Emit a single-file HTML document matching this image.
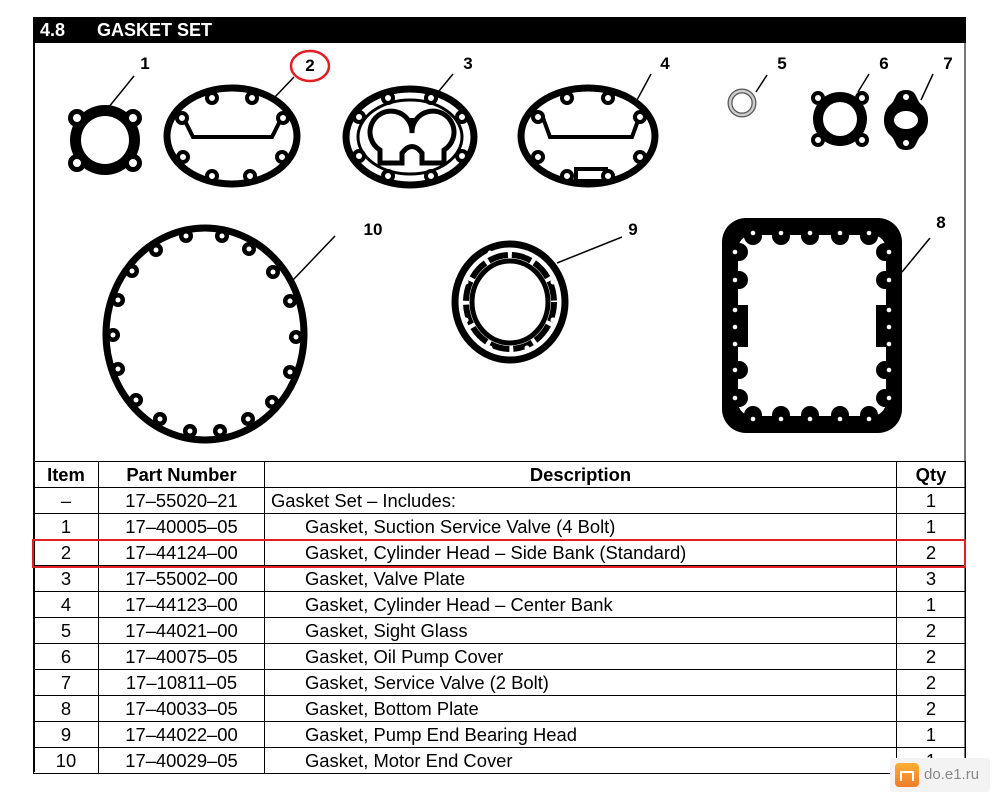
<!DOCTYPE html>
<html><head><meta charset="utf-8"><style>
body{margin:0;background:#fff;width:1000px;height:802px;overflow:hidden;font-family:"Liberation Sans",Arial,sans-serif;position:relative}
#hdr{position:absolute;left:33px;top:17px;width:933px;height:26px;background:#000;color:#fff;font-weight:bold;font-size:18px;line-height:27px}
#frame{position:absolute;left:33px;top:17px;width:933px;height:755px;border-left:2px solid #000;border-right:2px solid #777;box-sizing:border-box}
table{position:absolute;left:33px;top:461px;width:933px;border-collapse:collapse;font-size:18.4px}
tr{height:26px}
td,th{border:1.5px solid #000;padding:0;line-height:20px}
th{font-weight:bold;text-align:center}
td.c{text-align:center}
td.d{padding-left:40px}
#red{position:absolute;left:32px;top:539px;width:930px;height:25px;border:2.5px solid #e31e24}
#wm{position:absolute;left:890px;top:758px;width:100px;height:34px;background:#f3f3f3;border-radius:3px}
</style></head><body>
<div id="frame"></div>
<div id="hdr"><span style="position:absolute;left:7px">4.8</span><span style="position:absolute;left:64px">GASKET SET</span></div>
<svg width="1000" height="460" style="position:absolute;left:0;top:0" font-family="Liberation Sans,Arial,sans-serif" font-weight="bold" font-size="17">
<g fill="#000" text-anchor="middle">
<text x="145" y="69">1</text><text x="310" y="71">2</text><text x="468" y="69">3</text><text x="665" y="69">4</text><text x="782" y="69">5</text><text x="884" y="69">6</text><text x="948" y="69">7</text>
<text x="373" y="235">10</text><text x="633" y="235">9</text><text x="941" y="228">8</text>
</g>
<ellipse cx="310" cy="66" rx="19" ry="15" fill="none" stroke="#e31e24" stroke-width="2.5"/>
<g stroke="#000" stroke-width="1.5" fill="none">
<line x1="134" y1="76" x2="108" y2="108"/><line x1="294" y1="77" x2="275" y2="97"/><line x1="453" y1="74" x2="439" y2="91"/>
<line x1="651" y1="74" x2="637" y2="100"/><line x1="767" y1="75" x2="756" y2="92"/><line x1="869" y1="74" x2="858" y2="92"/><line x1="933" y1="74" x2="921" y2="100"/>
<line x1="335" y1="236" x2="293" y2="280"/><line x1="622" y1="237" x2="557" y2="263"/><line x1="930" y1="238" x2="902" y2="272"/>
</g>
<g>
<circle cx="105" cy="140" r="35" fill="#000"/>
<g fill="#000"><circle cx="77" cy="118" r="9"/><circle cx="133" cy="118" r="9"/><circle cx="77" cy="163" r="9"/><circle cx="133" cy="163" r="9"/></g>
<circle cx="105" cy="140" r="24" fill="#fff"/>
<g fill="#fff"><circle cx="77" cy="118" r="4"/><circle cx="133" cy="118" r="4"/><circle cx="77" cy="163" r="4"/><circle cx="133" cy="163" r="4"/></g>
</g>
<g>
<ellipse cx="232" cy="136" rx="65" ry="48" fill="none" stroke="#000" stroke-width="7"/>
<path d="M182 115 L193 137 L272 137 L283 115" fill="none" stroke="#000" stroke-width="4"/>
<g fill="#fff" stroke="#000" stroke-width="4"><circle cx="212" cy="98" r="5"/><circle cx="252" cy="98" r="5"/><circle cx="182" cy="118" r="5"/><circle cx="283" cy="118" r="5"/><circle cx="183" cy="157" r="5"/><circle cx="282" cy="157" r="5"/><circle cx="212" cy="176" r="5"/><circle cx="250" cy="176" r="5"/></g>
</g>
<g>
<ellipse cx="410" cy="137" rx="64" ry="48" fill="none" stroke="#000" stroke-width="7"/>
<ellipse cx="410" cy="137" rx="52" ry="37" fill="none" stroke="#000" stroke-width="3"/>
<path d="M412 133 A21 21 0 1 0 380 150 L380 163 L402 163 L402 153 Q412 140 422 153 L422 163 L444 163 L444 150 A21 21 0 1 0 412 133 Z" fill="#fff" stroke="#000" stroke-width="5"/>
<line x1="412" y1="118" x2="412" y2="133" stroke="#000" stroke-width="4"/>
<g fill="#fff" stroke="#000" stroke-width="4"><circle cx="388" cy="98" r="5"/><circle cx="431" cy="98" r="5"/><circle cx="359" cy="117" r="5"/><circle cx="462" cy="117" r="5"/><circle cx="359" cy="156" r="5"/><circle cx="462" cy="156" r="5"/><circle cx="388" cy="176" r="5"/><circle cx="431" cy="176" r="5"/></g>
</g>
<g>
<ellipse cx="588" cy="136" rx="67" ry="48" fill="none" stroke="#000" stroke-width="7"/>
<path d="M542 115 L550 137 L632 137 L640 115" fill="none" stroke="#000" stroke-width="4"/>
<rect x="576" y="169" width="30" height="12" fill="#fff" stroke="#000" stroke-width="4"/>
<g fill="#fff" stroke="#000" stroke-width="4"><circle cx="567" cy="98" r="5"/><circle cx="608" cy="98" r="5"/><circle cx="538" cy="117" r="5"/><circle cx="640" cy="117" r="5"/><circle cx="538" cy="157" r="5"/><circle cx="640" cy="157" r="5"/><circle cx="567" cy="176" r="5"/><circle cx="608" cy="176" r="5"/></g>
</g>
<circle cx="742" cy="103" r="12" fill="#fff" stroke="#555" stroke-width="5"/>
<circle cx="742" cy="103" r="12" fill="none" stroke="#ccc" stroke-width="2.5"/>
<g>
<circle cx="840" cy="119" r="27" fill="#000"/>
<g fill="#000"><circle cx="818" cy="98" r="7"/><circle cx="862" cy="98" r="7"/><circle cx="818" cy="140" r="7"/><circle cx="862" cy="140" r="7"/></g>
<circle cx="840" cy="119" r="17" fill="#fff"/>
<g fill="#fff"><circle cx="818" cy="98" r="3"/><circle cx="862" cy="98" r="3"/><circle cx="818" cy="140" r="3"/><circle cx="862" cy="140" r="3"/></g>
</g>
<g>
<path d="M906 90 C918 90 915 100 922 105 C930 112 930 128 922 135 C915 140 918 150 906 150 C894 150 897 140 890 135 C882 128 882 112 890 105 C897 100 894 90 906 90 Z" fill="#000"/>
<ellipse cx="906" cy="120" rx="12" ry="9" fill="#fff"/>
<circle cx="906" cy="97" r="3" fill="#fff"/><circle cx="906" cy="143" r="3" fill="#fff"/>
</g>
<g>
<ellipse cx="205" cy="334" rx="99" ry="106" fill="none" stroke="#000" stroke-width="7"/>
<g fill="#000">
<circle cx="186" cy="236" r="7"/><circle cx="222" cy="236" r="7"/><circle cx="249" cy="249" r="7"/><circle cx="273" cy="272" r="7"/><circle cx="290" cy="301" r="7"/><circle cx="296" cy="337" r="7"/><circle cx="290" cy="372" r="7"/><circle cx="272" cy="402" r="7"/><circle cx="248" cy="419" r="7"/><circle cx="220" cy="431" r="7"/><circle cx="190" cy="431" r="7"/><circle cx="160" cy="419" r="7"/><circle cx="136" cy="400" r="7"/><circle cx="118" cy="369" r="7"/><circle cx="113" cy="335" r="7"/><circle cx="118" cy="300" r="7"/><circle cx="132" cy="271" r="7"/><circle cx="156" cy="250" r="7"/>
</g>
<g fill="#fff">
<circle cx="186" cy="236" r="2.5"/><circle cx="222" cy="236" r="2.5"/><circle cx="249" cy="249" r="2.5"/><circle cx="273" cy="272" r="2.5"/><circle cx="290" cy="301" r="2.5"/><circle cx="296" cy="337" r="2.5"/><circle cx="290" cy="372" r="2.5"/><circle cx="272" cy="402" r="2.5"/><circle cx="248" cy="419" r="2.5"/><circle cx="220" cy="431" r="2.5"/><circle cx="190" cy="431" r="2.5"/><circle cx="160" cy="419" r="2.5"/><circle cx="136" cy="400" r="2.5"/><circle cx="118" cy="369" r="2.5"/><circle cx="113" cy="335" r="2.5"/><circle cx="118" cy="300" r="2.5"/><circle cx="132" cy="271" r="2.5"/><circle cx="156" cy="250" r="2.5"/>
</g>
</g>
<g>
<ellipse cx="510" cy="302" rx="55" ry="58" fill="none" stroke="#000" stroke-width="7"/>
<ellipse cx="510" cy="302" rx="44" ry="47" fill="none" stroke="#000" stroke-width="6" stroke-dasharray="20 4"/>
<ellipse cx="510" cy="302" rx="38" ry="41" fill="none" stroke="#000" stroke-width="5"/>
<g fill="#fff"><circle cx="490" cy="253" r="2.5"/><circle cx="527" cy="253" r="2.5"/><circle cx="466" cy="282" r="2.5"/><circle cx="553" cy="282" r="2.5"/><circle cx="466" cy="320" r="2.5"/><circle cx="553" cy="320" r="2.5"/><circle cx="490" cy="348" r="2.5"/><circle cx="527" cy="348" r="2.5"/></g>
</g>
<g>
<rect x="722" y="218" width="180" height="215" rx="24" fill="#000"/>
<rect x="738" y="235" width="148" height="181" rx="14" fill="#fff"/>
<g fill="#000">
<circle cx="753" cy="236" r="9"/><circle cx="781" cy="236" r="9"/><circle cx="810" cy="236" r="9"/><circle cx="840" cy="236" r="9"/><circle cx="869" cy="236" r="9"/>
<circle cx="753" cy="415" r="9"/><circle cx="781" cy="415" r="9"/><circle cx="810" cy="415" r="9"/><circle cx="840" cy="415" r="9"/><circle cx="869" cy="415" r="9"/>
<circle cx="739" cy="252" r="9"/><circle cx="739" cy="280" r="9"/><circle cx="739" cy="370" r="9"/><circle cx="739" cy="398" r="9"/>
<circle cx="885" cy="252" r="9"/><circle cx="885" cy="280" r="9"/><circle cx="885" cy="370" r="9"/><circle cx="885" cy="398" r="9"/>
<rect x="736" y="305" width="12" height="42"/><rect x="876" y="305" width="12" height="42"/>
</g>
<g fill="#fff">
<circle cx="753" cy="233" r="2.3"/><circle cx="781" cy="233" r="2.3"/><circle cx="810" cy="233" r="2.3"/><circle cx="840" cy="233" r="2.3"/><circle cx="869" cy="233" r="2.3"/>
<circle cx="753" cy="419" r="2.3"/><circle cx="781" cy="419" r="2.3"/><circle cx="810" cy="419" r="2.3"/><circle cx="840" cy="419" r="2.3"/><circle cx="869" cy="419" r="2.3"/>
<circle cx="735" cy="252" r="2.3"/><circle cx="735" cy="280" r="2.3"/><circle cx="735" cy="310" r="2.3"/><circle cx="735" cy="327" r="2.3"/><circle cx="735" cy="344" r="2.3"/><circle cx="735" cy="370" r="2.3"/><circle cx="735" cy="398" r="2.3"/>
<circle cx="889" cy="252" r="2.3"/><circle cx="889" cy="280" r="2.3"/><circle cx="889" cy="310" r="2.3"/><circle cx="889" cy="327" r="2.3"/><circle cx="889" cy="344" r="2.3"/><circle cx="889" cy="370" r="2.3"/><circle cx="889" cy="398" r="2.3"/>
</g>
</g>
</svg>
<table>
<tr><th style="width:64px">Item</th><th style="width:165px">Part Number</th><th>Description</th><th style="width:68px">Qty</th></tr>
<tr><td class="c">–</td><td class="c">17–55020–21</td><td style="padding-left:6px">Gasket Set – Includes:</td><td class="c">1</td></tr>
<tr><td class="c">1</td><td class="c">17–40005–05</td><td class="d">Gasket, Suction Service Valve (4 Bolt)</td><td class="c">1</td></tr>
<tr><td class="c">2</td><td class="c">17–44124–00</td><td class="d">Gasket, Cylinder Head – Side Bank (Standard)</td><td class="c">2</td></tr>
<tr><td class="c">3</td><td class="c">17–55002–00</td><td class="d">Gasket, Valve Plate</td><td class="c">3</td></tr>
<tr><td class="c">4</td><td class="c">17–44123–00</td><td class="d">Gasket, Cylinder Head – Center Bank</td><td class="c">1</td></tr>
<tr><td class="c">5</td><td class="c">17–44021–00</td><td class="d">Gasket, Sight Glass</td><td class="c">2</td></tr>
<tr><td class="c">6</td><td class="c">17–40075–05</td><td class="d">Gasket, Oil Pump Cover</td><td class="c">2</td></tr>
<tr><td class="c">7</td><td class="c">17–10811–05</td><td class="d">Gasket, Service Valve (2 Bolt)</td><td class="c">2</td></tr>
<tr><td class="c">8</td><td class="c">17–40033–05</td><td class="d">Gasket, Bottom Plate</td><td class="c">2</td></tr>
<tr><td class="c">9</td><td class="c">17–44022–00</td><td class="d">Gasket, Pump End Bearing Head</td><td class="c">1</td></tr>
<tr><td class="c">10</td><td class="c">17–40029–05</td><td class="d">Gasket, Motor End Cover</td><td class="c">1</td></tr>
</table>
<div id="red"></div>
<div id="wm"><div style="position:absolute;left:5px;top:5px;width:24px;height:24px;border-radius:4px;background:linear-gradient(#fbb034,#f07a2a)"><div style="position:absolute;left:5px;top:8px;width:14px;height:10px;border:2px solid #fff;border-bottom:none;box-sizing:border-box"></div></div><span style="position:absolute;left:34px;top:8px;font-size:15px;color:#888">do.e1.ru</span></div>
</body></html>
